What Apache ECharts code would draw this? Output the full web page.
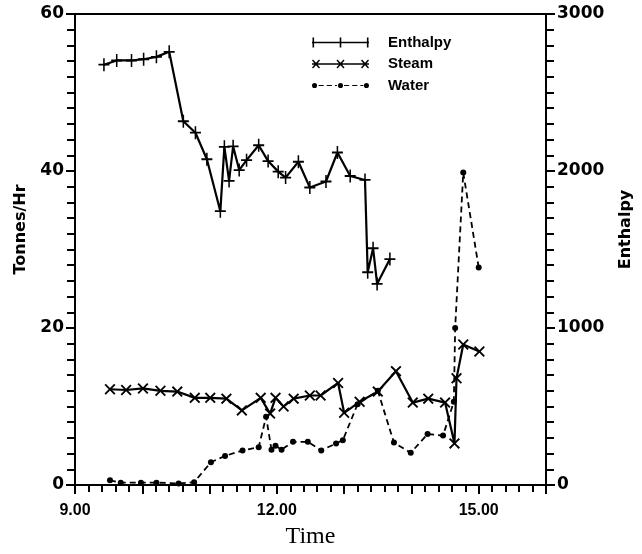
<!DOCTYPE html>
<html>
<head>
    <meta charset="utf-8">
    <title>Enthalpy / Steam / Water</title>
    <script src="https://cdn.jsdelivr.net/npm/echarts@6/dist/echarts.min.js"></script>
    <style>
        html, body { margin: 0; padding: 0; background: #fff; }
        #main { width: 642px; height: 554px; }
    </style>
</head>
<body>
<div id="main"></div>
<script>
    // time in decimal hours
    var enthalpyTime = [9.43, 9.62, 9.84, 10.02, 10.21, 10.40, 10.61, 10.79, 10.96, 11.16, 11.22, 11.29, 11.35, 11.44, 11.55,
        11.73, 11.87, 12.02, 12.13, 12.32, 12.49, 12.73, 12.90, 13.09, 13.31, 13.35, 13.43, 13.49, 13.68];
    var enthalpyValue = [2677, 2704, 2704, 2712, 2727, 2759, 2317, 2244, 2075, 1744, 2154, 1937, 2157, 2006, 2069,
        2164, 2063, 1996, 1958, 2059, 1895, 1933, 2118, 1968, 1943, 1355, 1508, 1281, 1439];

    var steamTime = [9.52, 9.76, 10.01, 10.27, 10.52, 10.78, 11.01, 11.25, 11.48, 11.76, 11.90, 11.98, 12.10, 12.25,
        12.49, 12.65, 12.91, 13.00, 13.23, 13.50, 13.77, 14.02, 14.25, 14.50, 14.64, 14.67, 14.77, 15.01];
    var steamValue = [12.2, 12.1, 12.3, 12.0, 11.9, 11.1, 11.1, 11.0, 9.5, 11.1, 9.1, 11.1, 10.0, 11.0,
        11.4, 11.4, 13.0, 9.2, 10.6, 11.9, 14.5, 10.5, 11.0, 10.5, 5.3, 13.6, 17.9, 17.0];

    var waterTime = [9.52, 9.68, 9.98, 10.21, 10.54, 10.77, 11.02, 11.23, 11.49, 11.73, 11.84, 11.92, 11.98, 12.07,
        12.24, 12.46, 12.66, 12.88, 12.98, 13.20, 13.50, 13.74, 13.99, 14.24, 14.47, 14.63, 14.65, 14.77, 15.00];
    var waterValue = [0.6, 0.3, 0.3, 0.3, 0.2, 0.35, 2.9, 3.7, 4.4, 4.8, 8.7, 4.5, 5.0, 4.5,
        5.5, 5.5, 4.4, 5.3, 5.7, 10.3, 12.0, 5.4, 4.1, 6.5, 6.3, 10.6, 20.0, 39.8, 27.7];

    var leftTicks = [0, 20, 40, 60];
    var rightTicks = [0, 1000, 2000, 3000];
    var timeLabels = [9, 12, 15];

    function pairs(xs, ys) {
        var out = [];
        for (var i = 0; i < xs.length; i++) {
            out.push([xs[i], ys[i]]);
        }
        return out;
    }

    var plusSym = 'path://M0,4.3 L10,4.3 L10,5.7 L0,5.7 Z M4.3,0 L5.7,0 L5.7,10 L4.3,10 Z';
    var crossSym = 'path://M0,1.2 L1.2,0 L5,3.8 L8.8,0 L10,1.2 L6.2,5 L10,8.8 L8.8,10 L5,6.2 L1.2,10 L0,8.8 L3.8,5 Z';

    // legend icons: line with three markers, drawn in a 57x10 box
    function crossAt(x) {
        return 'M' + (x - 4) + ',1.5 L' + (x - 3) + ',0.5 L' + x + ',3.8 L' + (x + 3) + ',0.5 L' + (x + 4) + ',1.5 L' + (x + 1) + ',5 L' +
            (x + 4) + ',8.5 L' + (x + 3) + ',9.5 L' + x + ',6.2 L' + (x - 3) + ',9.5 L' + (x - 4) + ',8.5 L' + (x - 1) + ',5 Z ';
    }
    function dotAt(x) {
        return 'M' + (x - 2.5) + ',5 A2.5,2.5 0 1,0 ' + (x + 2.5) + ',5 A2.5,2.5 0 1,0 ' + (x - 2.5) + ',5 Z ';
    }
    var iconEnthalpy = 'path://M0,4.2 L57,4.2 L57,5.8 L0,5.8 Z M0.5,0 L2.1,0 L2.1,10 L0.5,10 Z M27.7,0 L29.3,0 L29.3,10 L27.7,10 Z M54.9,0 L56.5,0 L56.5,10 L54.9,10 Z';
    var iconSteam = 'path://M0,4.3 L57,4.3 L57,5.7 L0,5.7 Z ' + crossAt(4) + crossAt(28.5) + crossAt(53);
    var iconWater = 'path://' + dotAt(3) + dotAt(28.5) + dotAt(54) +
        'M7,4.4 L12,4.4 L12,5.6 L7,5.6 Z M15,4.4 L20,4.4 L20,5.6 L15,5.6 Z M23,4.4 L25,4.4 L25,5.6 L23,5.6 Z ' +
        'M32,4.4 L37,4.4 L37,5.6 L32,5.6 Z M40,4.4 L45,4.4 L45,5.6 L40,5.6 Z M48,4.4 L51,4.4 L51,5.6 L48,5.6 Z';

    var labelFont = { color: '#000', fontFamily: 'DejaVu Sans', fontWeight: 'bold', fontSize: 17 };
    var nameFont = { color: '#000', fontFamily: 'DejaVu Sans', fontWeight: 'bold', fontSize: 16, padding: [0, 0, 0, 40] };

    var myChart = echarts.init(document.getElementById('main'));
    var option = {
        backgroundColor: '#fff',
        animation: false,
        grid: {
            left: 75, right: 93, top: 14, bottom: 64,
            show: true, borderColor: '#000', borderWidth: 2
        },
        legend: {
            orient: 'vertical',
            left: 312, top: 35,
            padding: 0,
            itemWidth: 57, itemHeight: 10, itemGap: 6.5,
            textStyle: { color: '#000', fontFamily: 'Liberation Sans', fontWeight: 'bold', fontSize: 15, padding: [0, 0, 0, 14] },
            data: [
                { name: 'Enthalpy', icon: iconEnthalpy },
                { name: 'Steam', icon: iconSteam },
                { name: 'Water', icon: iconWater }
            ]
        },
        xAxis: {
            type: 'value',
            min: 9, max: 16, interval: 1,
            name: 'Time',
            nameLocation: 'middle',
            nameGap: 40,
            nameTextStyle: { color: '#000', fontFamily: 'Liberation Serif', fontSize: 24 },
            axisLine: { lineStyle: { color: '#000', width: 2 } },
            axisTick: { inside: false, length: 9, lineStyle: { color: '#000', width: 2 } },
            minorTick: { show: true, splitNumber: 5, length: 7, lineStyle: { color: '#000', width: 2 } },
            splitLine: { show: false },
            axisLabel: {
                margin: 18, color: '#000', fontFamily: 'Liberation Sans', fontWeight: 'bold', fontSize: 16,
                formatter: function (v) {
                    return timeLabels.indexOf(v) >= 0 ? v.toFixed(2) : '';
                }
            }
        },
        yAxis: [
            {
                type: 'value',
                min: leftTicks[0], max: leftTicks[leftTicks.length - 1], interval: 20,
                name: 'Tonnes/Hr',
                nameLocation: 'middle',
                nameGap: 46,
                nameTextStyle: nameFont,
                axisLine: { show: true, lineStyle: { color: '#000', width: 2 } },
                axisTick: { show: true, length: 9, lineStyle: { color: '#000', width: 2 } },
                minorTick: { show: true, splitNumber: 10, length: 8, lineStyle: { color: '#000', width: 2 } },
                splitLine: { show: false },
                axisLabel: Object.assign({ margin: 11 }, labelFont)
            },
            {
                type: 'value',
                position: 'right',
                min: rightTicks[0], max: rightTicks[rightTicks.length - 1], interval: 1000,
                name: 'Enthalpy',
                nameLocation: 'middle',
                nameGap: 72,
                nameTextStyle: nameFont,
                axisLine: { show: true, lineStyle: { color: '#000', width: 2 } },
                axisTick: { show: true, length: 9, lineStyle: { color: '#000', width: 2 } },
                minorTick: { show: true, splitNumber: 10, length: 8, lineStyle: { color: '#000', width: 2 } },
                splitLine: { show: false },
                axisLabel: Object.assign({ margin: 11, formatter: function (v) { return String(v); } }, labelFont)
            }
        ],
        series: [
            {
                name: 'Enthalpy',
                type: 'line',
                yAxisIndex: 1,
                data: pairs(enthalpyTime, enthalpyValue),
                symbol: plusSym,
                symbolSize: [11, 13],
                itemStyle: { color: '#000' },
                lineStyle: { color: '#000', width: 2.2 }
            },
            {
                name: 'Steam',
                type: 'line',
                yAxisIndex: 0,
                data: pairs(steamTime, steamValue),
                symbol: crossSym,
                symbolSize: 11,
                itemStyle: { color: '#000' },
                lineStyle: { color: '#000', width: 2.2 }
            },
            {
                name: 'Water',
                type: 'line',
                yAxisIndex: 0,
                data: pairs(waterTime, waterValue),
                symbol: 'circle',
                symbolSize: 6,
                itemStyle: { color: '#000' },
                lineStyle: { color: '#000', width: 1.8, type: [6, 4] }
            }
        ]
    };
    myChart.setOption(option);
</script>
</body>
</html>
